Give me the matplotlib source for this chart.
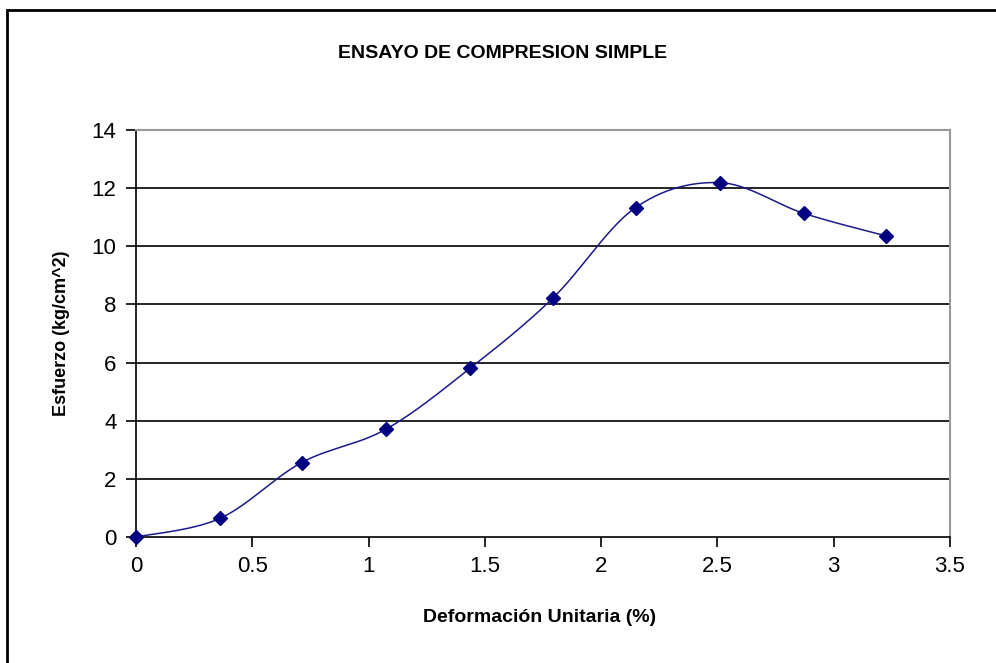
import numpy as np
import matplotlib.pyplot as plt
from matplotlib.patches import Rectangle

# data
deformacion = [0, 0.361, 0.712, 1.073, 1.436, 1.794, 2.148, 2.51, 2.872, 3.223]
esfuerzo = [0, 0.64, 2.56, 3.70, 5.80, 8.23, 11.33, 12.19, 11.13, 10.36]
x_ticks = [0, 0.5, 1, 1.5, 2, 2.5, 3, 3.5]
x_tick_labels = ['0', '0.5', '1', '1.5', '2', '2.5', '3', '3.5']
y_ticks = [0, 2, 4, 6, 8, 10, 12, 14]

plt.rcParams['font.family'] = ['Liberation Sans', 'DejaVu Sans']


def smooth_curve(xs, ys, n=30):
    # Excel-like smoothed line: cubic Bezier segments with Catmull-Rom control points
    p = np.column_stack([xs, ys]).astype(float)
    pts = []
    for i in range(len(p) - 1):
        p0 = p[i - 1] if i > 0 else p[i]
        p1, p2 = p[i], p[i + 1]
        p3 = p[i + 2] if i + 2 < len(p) else p[i + 1]
        c1 = p1 + (p2 - p0) / 6
        c2 = p2 - (p3 - p1) / 6
        t = np.linspace(0, 1, n)[:, None]
        seg = ((1 - t) ** 3) * p1 + 3 * ((1 - t) ** 2) * t * c1 + 3 * (1 - t) * t ** 2 * c2 + t ** 3 * p2
        pts.append(seg if i == 0 else seg[1:])
    pts = np.vstack(pts)
    return pts[:, 0], pts[:, 1]


fig = plt.figure(figsize=(9.96, 6.63), dpi=100)
ax = fig.add_axes([136 / 996, 1 - 537 / 663, (950 - 136) / 996, (537 - 130) / 663])

# figure border (cropped on right and bottom)
fig.patches.append(Rectangle((7 / 996, -0.05), 1.1, 1 - 10 / 663 + 0.05, transform=fig.transFigure,
                             fill=False, edgecolor='black', linewidth=2))

for yv in y_ticks[1:-1]:
    ax.axhline(yv, color='black', linewidth=1.2, zorder=1)

sx, sy = smooth_curve(deformacion, esfuerzo)
ax.plot(sx, sy, color='#1a1a8c', linewidth=1.1, zorder=3)
ax.plot(deformacion, esfuerzo, linestyle='none', marker='D', markersize=7,
        color='#000080', zorder=4, clip_on=False)

ax.set_xlim(0, 3.5)
ax.set_ylim(0, 14)
ax.set_xticks(x_ticks)
ax.set_xticklabels(x_tick_labels)
ax.set_yticks(y_ticks)
ax.tick_params(axis='both', direction='out', length=7, width=1.2, color='black',
               labelsize=16, pad=7)

ax.spines['left'].set_color('black')
ax.spines['bottom'].set_color('black')
ax.spines['left'].set_linewidth(1.2)
ax.spines['bottom'].set_linewidth(1.2)
ax.spines['top'].set_color('#999999')
ax.spines['right'].set_color('#999999')
ax.spines['top'].set_linewidth(1.5)
ax.spines['right'].set_linewidth(1.5)

fig.text(503 / 996, 1 - 53 / 663, 'ENSAYO DE COMPRESION SIMPLE', ha='center', va='center',
         fontsize=14, fontweight='bold')
fig.text(540 / 996, 1 - 617 / 663, 'Deformación Unitaria (%)', ha='center', va='center',
         fontsize=14, fontweight='bold')
fig.text(62 / 996, 1 - 333 / 663, 'Esfuerzo (kg/cm^2)', ha='center', va='center',
         fontsize=13, fontweight='bold', rotation=90)

fig.savefig('out.png', dpi=100)
